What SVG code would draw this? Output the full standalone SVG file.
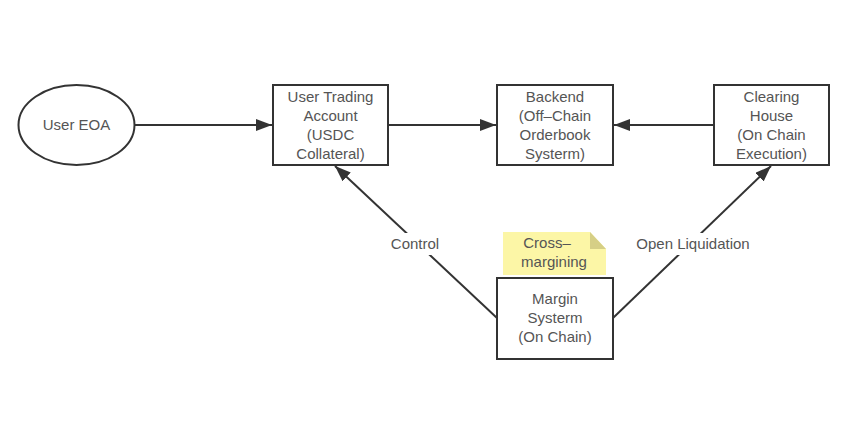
<svg xmlns="http://www.w3.org/2000/svg" width="864" height="421" viewBox="0 0 864 421">
<style>
.node{fill:#fff;stroke:#333;stroke-width:2}
.t{font-family:"Liberation Sans",Arial,sans-serif;font-size:15px;fill:#555;text-anchor:middle}
.edge{fill:none;stroke:#333;stroke-width:2}
</style>
<defs>
<marker id="arrL" viewBox="0 0 16 12" refX="16" refY="6" markerWidth="16" markerHeight="12" markerUnits="userSpaceOnUse" orient="auto">
<path d="M0,0 L16,6 L0,12 Z" fill="#333"/>
</marker>
</defs>
<rect width="864" height="421" fill="#fff"/>
<g id="edges">
<line class="edge" x1="135" y1="125" x2="272" y2="125" marker-end="url(#arrL)"/>
<line class="edge" x1="388" y1="125" x2="496" y2="125" marker-end="url(#arrL)"/>
<line class="edge" x1="714" y1="125" x2="614" y2="125" marker-end="url(#arrL)"/>
<line class="edge" x1="497" y1="318" x2="335" y2="166" marker-end="url(#arrL)"/>
<line class="edge" x1="613" y1="318" x2="771" y2="166" marker-end="url(#arrL)"/>
<rect x="384" y="233" width="62" height="22" fill="#fff"/>
<text class="t" x="415" y="249">Control</text>
<rect x="630" y="233" width="126" height="22" fill="#fff"/>
<text class="t" x="693" y="249">Open Liquidation</text>
</g>
<g id="user-eoa">
<ellipse class="node" cx="76.5" cy="125" rx="58" ry="40"/>
<text class="t" x="76.5" y="130">User EOA</text>
</g>
<g id="user-trading-account">
<rect class="node" x="273" y="85" width="115" height="80"/>
<text class="t"><tspan x="330.5" y="102">User Trading</tspan><tspan x="330.5" y="121">Account</tspan><tspan x="330.5" y="140">(USDC</tspan><tspan x="330.5" y="159">Collateral)</tspan></text>
</g>
<g id="backend">
<rect class="node" x="497" y="85" width="116" height="80"/>
<text class="t"><tspan x="555" y="102">Backend</tspan><tspan x="555" y="121">(Off–Chain</tspan><tspan x="555" y="140">Orderbook</tspan><tspan x="555" y="159">Systerm)</tspan></text>
</g>
<g id="clearing-house">
<rect class="node" x="714" y="85" width="115" height="80"/>
<text class="t"><tspan x="771.5" y="102">Clearing</tspan><tspan x="771.5" y="121">House</tspan><tspan x="771.5" y="140">(On Chain</tspan><tspan x="771.5" y="159">Execution)</tspan></text>
</g>
<g id="margin-system">
<rect class="node" x="497" y="278" width="116" height="81"/>
<text class="t"><tspan x="555" y="304">Margin</tspan><tspan x="555" y="323">Systerm</tspan><tspan x="555" y="342">(On Chain)</tspan></text>
</g>
<g id="note">
<path d="M503,232 H590 L606,249 V275 H503 Z" fill="#fcf6a6"/>
<path d="M590,232 L606,249 H590 Z" fill="#d6cf86"/>
<text class="t"><tspan x="547" y="248">Cross–</tspan><tspan x="554" y="267">margining</tspan></text>
</g>
</svg>
